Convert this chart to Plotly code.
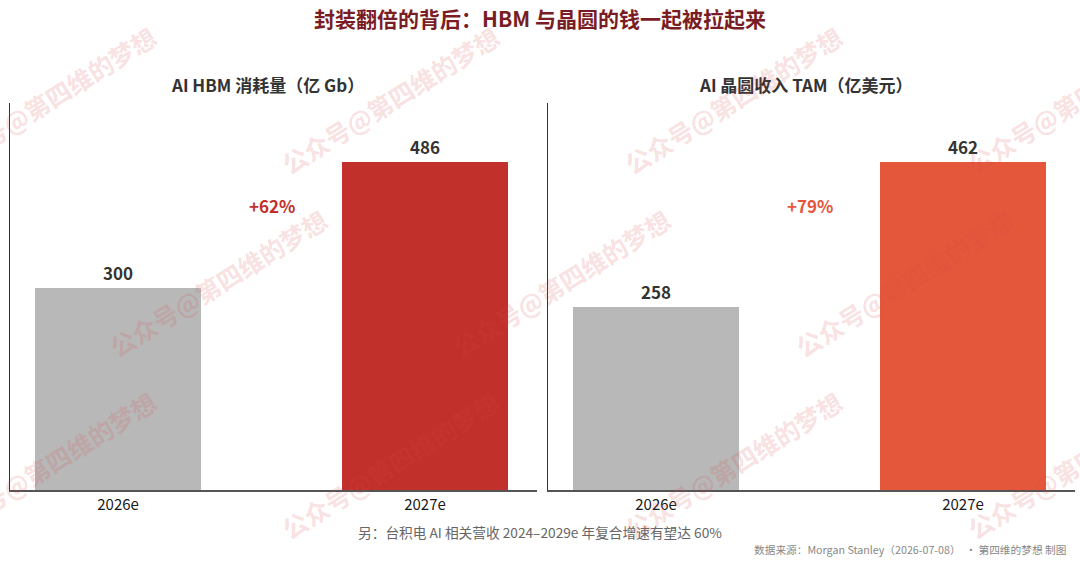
import plotly.graph_objects as go

# ---- data ----
categories = ["2026e", "2027e"]
hbm_values = [300, 486]
wafer_values = [258, 462]
panel_titles = ["AI HBM 消耗量（亿 Gb）", "AI 晶圆收入 TAM（亿美元）"]
main_title = "封装翻倍的背后：HBM 与晶圆的钱一起被拉起来"
footnote = "另：台积电 AI 相关营收 2024–2029e 年复合增速有望达 60%"
source_text = "数据来源：Morgan Stanley（2026-07-08）  · 第四维的梦想 制图"
watermark = "公众号@第四维的梦想"

FONT = "Noto Sans CJK SC"
GRAY = "#b8b8b8"
RED = "#c1302a"
ORANGE = "#e5573b"

W, H = 1080, 565
T, B = 103, 75
PLOT_TOP, PLOT_BOT = T, H - B


def py(pix):
    """pixel row -> paper y (paper spans the plot area vertically)"""
    return (PLOT_BOT - pix) / (PLOT_BOT - PLOT_TOP)


fig = go.Figure()

fig.add_trace(go.Bar(
    x=categories, y=hbm_values, xaxis="x", yaxis="y",
    marker=dict(color=[GRAY, RED], line=dict(width=0)),
    width=0.54,
    text=[str(v) for v in hbm_values], textposition="outside",
    textfont=dict(family=FONT, size=17, color="#333333", weight="bold"),
    cliponaxis=False, hoverinfo="skip",
))
fig.add_trace(go.Bar(
    x=categories, y=wafer_values, xaxis="x2", yaxis="y2",
    marker=dict(color=[GRAY, ORANGE], line=dict(width=0)),
    width=0.54,
    text=[str(v) for v in wafer_values], textposition="outside",
    textfont=dict(family=FONT, size=17, color="#333333", weight="bold"),
    cliponaxis=False, hoverinfo="skip",
))

xcommon = dict(
    type="category", range=[-0.352, 1.365], showgrid=False, zeroline=False,
    showline=True, linecolor="#555555", linewidth=2, ticks="",
    tickfont=dict(family=FONT, size=15, color="#1a1a1a"), fixedrange=True,
)
ycommon = dict(
    showgrid=False, zeroline=False, showline=True, linecolor="#333333",
    linewidth=1, showticklabels=False, ticks="", fixedrange=True,
)

fig.update_layout(
    width=W, height=H,
    margin=dict(l=0, r=0, t=T, b=B),
    paper_bgcolor="white", plot_bgcolor="white",
    showlegend=False,
    bargap=0,
    xaxis=dict(domain=[10/W, 537/W], anchor="y", **xcommon),
    yaxis=dict(domain=[0, 1], anchor="x", range=[0, max(hbm_values) * 1.18], **ycommon),
    xaxis2=dict(domain=[548/W, 1075/W], anchor="y2", **xcommon),
    yaxis2=dict(domain=[0, 1], anchor="x2", range=[0, max(wafer_values) * 1.18], **ycommon),
    font=dict(family=FONT),
)

annotations = []
# main title
annotations.append(dict(
    text=main_title, x=540/W, y=py(18), xref="paper", yref="paper",
    xanchor="center", yanchor="middle", showarrow=False,
    font=dict(family=FONT, size=21, color="#7a1c24", weight="bold"),
))
# panel titles
annotations.append(dict(
    text=panel_titles[0], x=267/W, y=py(84), xref="paper", yref="paper",
    xanchor="center", yanchor="middle", showarrow=False,
    font=dict(family=FONT, size=17, color="#333333", weight="bold"),
))
annotations.append(dict(
    text=panel_titles[1], x=805/W, y=py(84), xref="paper", yref="paper",
    xanchor="center", yanchor="middle", showarrow=False,
    font=dict(family=FONT, size=17, color="#333333", weight="bold"),
))
# growth labels
g1 = round((hbm_values[1] / hbm_values[0] - 1) * 100)
g2 = round((wafer_values[1] / wafer_values[0] - 1) * 100)
annotations.append(dict(
    text=f"+{g1}%", x=0.5, y=py(205), xref="x", yref="paper",
    xanchor="center", yanchor="middle", showarrow=False,
    font=dict(family=FONT, size=17, color=RED, weight="bold"),
))
annotations.append(dict(
    text=f"+{g2}%", x=0.5, y=py(205), xref="x2", yref="paper",
    xanchor="center", yanchor="middle", showarrow=False,
    font=dict(family=FONT, size=17, color=ORANGE, weight="bold"),
))
# footnote & source
annotations.append(dict(
    text=footnote, x=540/W, y=py(532), xref="paper", yref="paper",
    xanchor="center", yanchor="middle", showarrow=False,
    font=dict(family=FONT, size=13.7, color="#666666"),
))
annotations.append(dict(
    text=source_text, x=1068/W, y=py(549), xref="paper", yref="paper",
    xanchor="right", yanchor="middle", showarrow=False,
    font=dict(family=FONT, size=10.7, color="#888888"),
))
# watermarks
wm_centers = [
    (47, 100), (390, 100), (733, 100), (1076, 100),
    (218, 283), (561, 283), (904, 283),
    (47, 465), (390, 465), (733, 465), (1076, 465),
]
for cx, cy in wm_centers:
    annotations.append(dict(
        text=watermark, x=cx/W, y=py(cy), xref="paper", yref="paper",
        xanchor="center", yanchor="middle", showarrow=False, textangle=-32,
        font=dict(family=FONT, size=25, color="rgba(220,70,70,0.18)", weight="bold"),
    ))

fig.update_layout(annotations=annotations)
fig.write_html("out.html", config={"displayModeBar": False})
